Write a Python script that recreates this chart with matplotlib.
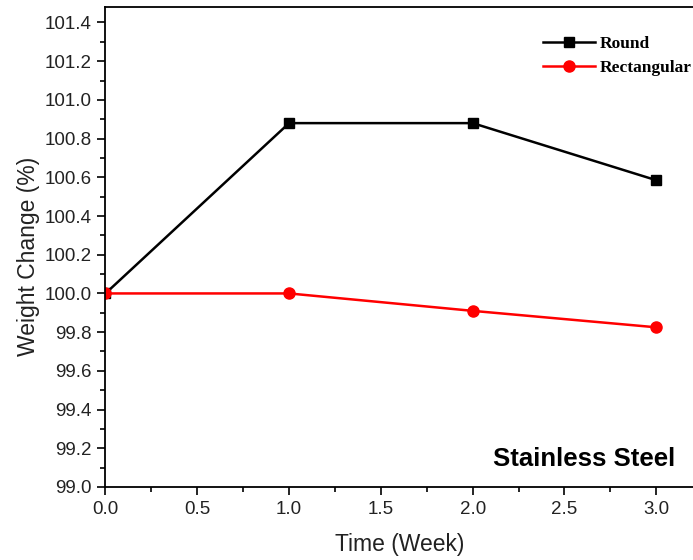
import matplotlib
matplotlib.use("Agg")
import matplotlib.pyplot as plt
from matplotlib.ticker import MultipleLocator, AutoMinorLocator

# data
weeks = [0, 1, 2, 3]
round_vals = [100.0, 100.88, 100.88, 100.585]
rect_vals = [100.0, 100.0, 99.91, 99.825]

plt.rcParams['font.family'] = ['Liberation Sans', 'DejaVu Sans']

fig = plt.figure(figsize=(6.93, 5.6), dpi=100)
ax = fig.add_axes([0.1522, 0.1304, 0.8478, 0.8571])

ax.plot(weeks, round_vals, color='black', marker='s', markersize=7.5, lw=1.8, label='Round')
ax.plot(weeks, rect_vals, color='red', marker='o', markersize=8, lw=1.8, label='Rectangular')

ax.set_xlim(0, 3.2)
ax.set_ylim(99.0, 101.48)
ax.xaxis.set_major_locator(MultipleLocator(0.5))
ax.xaxis.set_minor_locator(AutoMinorLocator(2))
ax.yaxis.set_major_locator(MultipleLocator(0.2))
ax.yaxis.set_minor_locator(AutoMinorLocator(2))
ax.xaxis.set_major_formatter(plt.FormatStrFormatter('%.1f'))
ax.yaxis.set_major_formatter(plt.FormatStrFormatter('%.1f'))
ax.tick_params(which='major', direction='out', length=6, width=1.2, labelsize=13.5,
               colors='black', labelcolor='#222222', pad=4)
ax.tick_params(which='minor', direction='out', length=3.5, width=1.2)
ax.spines['right'].set_visible(False)
for s in ['left', 'bottom', 'top']:
    ax.spines[s].set_linewidth(1.3)

ax.set_xlabel('Time (Week)', fontsize=16.5, color='#222222')
ax.set_ylabel('Weight Change (%)', fontsize=16.5, color='#222222')
ax.xaxis.set_label_coords(0.5, -0.095)
ax.yaxis.set_label_coords(-0.112, 0.48)

ax.text(0.97, 0.058, 'Stainless Steel', transform=ax.transAxes, ha='right', va='center',
        fontsize=18.5, fontweight='bold')

leg = ax.legend(loc='upper right', bbox_to_anchor=(1.024, 0.972), frameon=False,
                prop={'family': 'Liberation Serif', 'weight': 'bold', 'size': 12.5},
                handlelength=3.0, handletextpad=0.25, labelspacing=0.45)

fig.savefig('out.png', dpi=100)
